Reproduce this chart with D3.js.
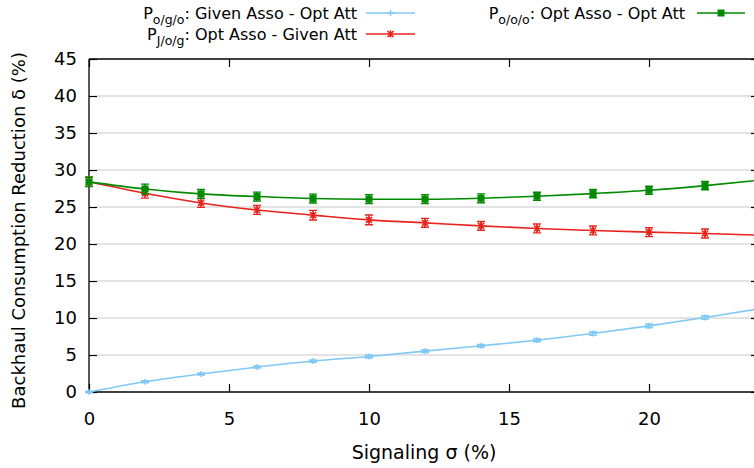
<!DOCTYPE html>
<html><head><meta charset="utf-8">
<script src="https://cdn.jsdelivr.net/npm/d3@7"></script>
<style>
body{margin:0;background:#fff;}
svg{display:block;font-family:"DejaVu Sans",sans-serif;}
</style></head>
<body><svg id="c" width="754" height="468"></svg>
<script>
const xTicks = [0,5,10,15,20];
const yTicks = [0,5,10,15,20,25,30,35,40,45];
const markerX = [0,2,4,6,8,10,12,14,16,18,20,22];
const lineX   = [0,2,4,6,8,10,12,14,16,18,20,22,24];
const blueVals  = [0,1.39,2.43,3.37,4.18,4.8,5.52,6.24,7.0,7.9,8.94,10.06,11.28];
const redVals   = [28.4,26.85,25.55,24.6,23.9,23.26,22.86,22.45,22.1,21.83,21.6,21.42,21.18];
const greenVals = [28.4,27.44,26.77,26.41,26.14,26.05,26.05,26.18,26.45,26.81,27.26,27.89,28.65];
const blueErr  = [0.1,0.15,0.15,0.15,0.15,0.2,0.2,0.2,0.2,0.25,0.25,0.25];
const redErr   = [0.6,0.65,0.6,0.6,0.65,0.65,0.6,0.6,0.6,0.6,0.6,0.6];
const greenErr = [0.65,0.65,0.6,0.6,0.6,0.6,0.6,0.6,0.55,0.55,0.55,0.55];

const svg = d3.select("#c");
const L=89, T=59, B=392, RR=754;
const x = d3.scaleLinear().domain([0,23.75]).range([L,RR]);
const y = d3.scaleLinear().domain([0,45]).range([B,T]);

// gridlines
svg.append("g").selectAll("line").data(yTicks.slice(1,-1)).join("line")
  .attr("x1",L+8).attr("x2",RR).attr("y1",d=>y(d)).attr("y2",d=>y(d))
  .attr("stroke","#c8c8c8").attr("stroke-width",1.2);

// axes
const fs = 18;
const gx = svg.append("g").attr("transform",`translate(0,${B})`)
  .call(d3.axisBottom(x).tickValues(xTicks).tickSize(-8).tickPadding(20).tickFormat(d3.format("d")));
const gxt = svg.append("g").attr("transform",`translate(0,${T})`)
  .call(d3.axisTop(x).tickValues(xTicks).tickSize(-8).tickFormat(""));
const gy = svg.append("g").attr("transform",`translate(${L},0)`)
  .call(d3.axisLeft(y).tickValues(yTicks).tickSize(-8).tickPadding(12).tickFormat(d3.format("d")));
const gyr = svg.append("g").attr("transform",`translate(${RR},0)`)
  .call(d3.axisRight(y).tickValues(yTicks).tickSize(-3).tickFormat(""));
[gx,gxt,gy,gyr].forEach(g=>{
  g.select(".domain").attr("stroke","#000").attr("stroke-width",1.3);
  g.selectAll(".tick line").attr("stroke","#000").attr("stroke-width",1.2);
  g.selectAll("text").attr("font-size",fs).attr("fill","#000").attr("font-family","DejaVu Sans");
});
gx.selectAll(".domain").attr("d",`M${L},0H${RR}`);
gxt.selectAll(".domain").attr("d",`M${L},0H${RR}`);
gy.selectAll(".domain").attr("d",`M0,${T}V${B}`);
gyr.select(".domain").remove();

// axis titles
svg.append("text").attr("x",424).attr("y",459).attr("text-anchor","middle")
  .attr("font-size",19).text("Signaling σ (%)");
svg.append("text").attr("transform",`translate(25,${(T+B)/2+5}) rotate(-90)`)
  .attr("text-anchor","middle").attr("font-size",18).text("Backhaul Consumption Reduction δ (%)");

// clip
svg.append("clipPath").attr("id","clip").append("rect").attr("x",L-10).attr("y",T-10).attr("width",RR-L+10).attr("height",B-T+20);
const plot = svg.append("g").attr("clip-path","url(#clip)");

const series = [
  {vals:blueVals, err:blueErr, color:"#82c8f5", marker:"plus"},
  {vals:redVals, err:redErr, color:"#e8231c", marker:"star"},
  {vals:greenVals, err:greenErr, color:"#008a00", marker:"square"}
];
const line = d3.line().x((d,i)=>x(lineX[i])).y(d=>y(d)).curve(d3.curveMonotoneX);

function drawMarker(g, type, cx, cy, color){
  if(type==="square"){
    g.append("rect").attr("x",cx-3.5).attr("y",cy-3.5).attr("width",7).attr("height",7).attr("fill",color);
  } else if(type==="star"){
    g.append("path").attr("d",`M${cx-3},${cy-3}L${cx+3},${cy+3}M${cx-3},${cy+3}L${cx+3},${cy-3}M${cx},${cy-3.5}V${cy+3.5}`)
      .attr("stroke",color).attr("stroke-width",1.6);
  } else {
    g.append("path").attr("d",`M${cx-4},${cy}H${cx+4}M${cx},${cy-3}V${cy+3}`)
      .attr("stroke",color).attr("stroke-width",1.4);
  }
}

series.forEach(s=>{
  plot.append("path").attr("d",line(s.vals)).attr("fill","none").attr("stroke",s.color).attr("stroke-width",1.6);
  const g = plot.append("g");
  markerX.forEach((mx,i)=>{
    const cx = x(mx), v = s.vals[i], e = s.err[i];
    const y1 = y(v+e), y2 = y(v-e);
    g.append("path").attr("d",`M${cx},${y1}V${y2}M${cx-4},${y1}H${cx+4}M${cx-4},${y2}H${cx+4}`)
      .attr("stroke",s.color).attr("stroke-width",1.4).attr("fill","none");
    drawMarker(g, s.marker, cx, y(v), s.color);
  });
});

// legend
const lfs = 16;
function legendLabel(tx, ty, sub, rest){
  const t = svg.append("text").attr("x",tx).attr("y",ty).attr("font-size",lfs).attr("text-anchor","end");
  t.append("tspan").text("P");
  t.append("tspan").attr("dy",5).attr("font-size",12.5).text(sub);
  t.append("tspan").attr("dy",-5).text(rest);
}
legendLabel(357,19,"o/g/o",": Given Asso - Opt Att");
legendLabel(357,40,"J/o/g",": Opt Asso - Given Att");
legendLabel(685,19,"o/o/o",": Opt Asso - Opt Att");
const legItems = [
  {x1:366,x2:415,y:13,s:series[0]},
  {x1:366,x2:415,y:34,s:series[1]},
  {x1:697,x2:745,y:13,s:series[2]}
];
legItems.forEach(it=>{
  svg.append("line").attr("x1",it.x1).attr("x2",it.x2).attr("y1",it.y).attr("y2",it.y)
    .attr("stroke",it.s.color).attr("stroke-width",1.6);
  drawMarker(svg, it.s.marker, (it.x1+it.x2)/2, it.y, it.s.color);
});
</script></body></html>
